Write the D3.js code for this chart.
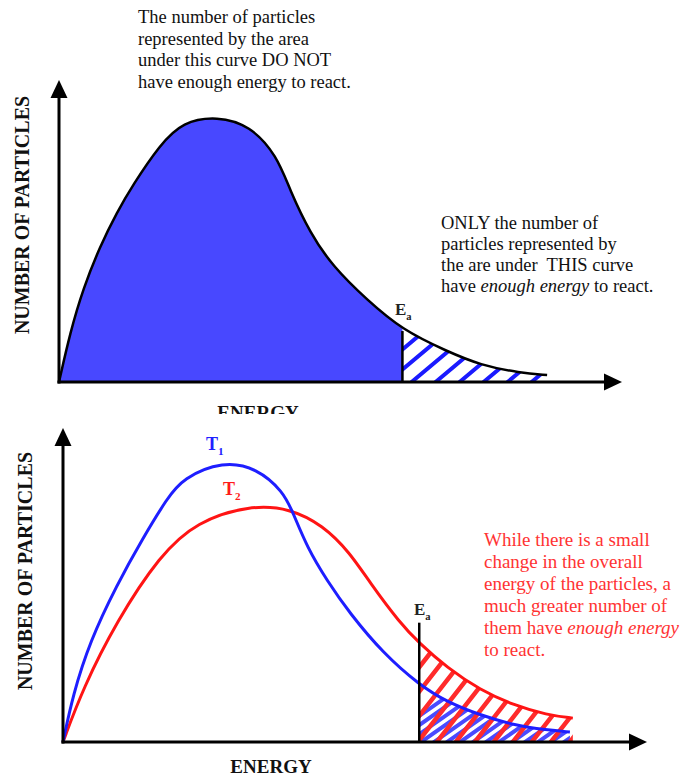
<!DOCTYPE html>
<html>
<head>
<meta charset="utf-8">
<script src="https://cdn.jsdelivr.net/npm/d3@7"></script>
<style>
  body { margin: 0; background: #fff; }
  svg { display: block; }
  svg text { font-family: "Liberation Serif", "DejaVu Serif", serif; }
  .axis path { stroke: #000; stroke-width: 3; }
</style>
</head>
<body>
<div id="chart"></div>
<script>
// values (arbitrary energy / count units)
var topEnergy = [0, 0.2, 0.43, 0.73, 1.03, 1.31, 1.79, 2.2, 2.81, 3.39, 3.87, 4.1, 4.46, 4.87, 5.47, 6.1, 6.89, 7.48, 8.19, 8.67];
var topCount = [0, 1.65, 3.1, 4.5, 5.62, 6.52, 7.85, 8.62, 8.8, 8.5, 7.5, 6.36, 4.93, 3.81, 2.72, 1.72, 1.02, 0.56, 0.3, 0.23];

var t1Energy = [0, 0.17, 0.46, 0.92, 1.37, 1.78, 2.05, 2.74, 3.32, 3.77, 3.94, 4.18, 4.52, 4.91, 5.48, 6.1, 6.58, 7.14, 7.71, 8.29, 8.68];
var t1Count = [0, 1.5, 3.2, 5.0, 6.5, 7.75, 8.4, 8.95, 8.72, 7.98, 7.3, 6.2, 5.14, 4.1, 2.83, 1.82, 1.27, 0.86, 0.54, 0.38, 0.32];

var t2Energy = [0, 0.34, 0.92, 1.66, 2.29, 3.2, 3.89, 4.45, 4.91, 5.26, 5.77, 6.1, 6.58, 7.14, 7.71, 8.29, 8.73];
var t2Count = [0, 1.7, 3.85, 5.95, 7.02, 7.54, 7.44, 6.9, 6.04, 5.06, 3.79, 3.15, 2.36, 1.66, 1.18, 0.86, 0.76];

var activationEnergy = 6.1;
var eaLineTop = 3.8;

var topNote = ["The number of particles", "represented by the area", "under this curve DO NOT", "have enough energy to react."];
var tailNote = [["ONLY the number of"], ["particles represented by"], ["the are under  THIS curve"], ["have ", "enough energy", " to react."]];
var redNote = [["While there is a small"], ["change in the overall"], ["energy of the particles, a"], ["much greater number of"], ["them have ", "enough energy"], ["to react."]];

var svgWidth = 688;
var svgHeight = 777;
var serif = "Liberation Serif, DejaVu Serif, serif";

var svg = d3.select("#chart")
    .append("svg")
    .attr("width", svgWidth)
    .attr("height", svgHeight);

svg.append("rect").attr("width", svgWidth).attr("height", svgHeight).attr("fill", "#fff");

var defs = svg.append("defs");

function toPoints(xs, ys) {
    return xs.map(function (d, i) { return [d, ys[i]]; });
}

// draws axis lines with arrow heads, no ticks
function drawAxes(g, x, y) {
    g.append("g")
        .attr("class", "axis")
        .attr("transform", `translate(0, ${y(0)})`)
        .call(d3.axisBottom(x).tickValues([]).tickSizeOuter(0).tickSizeInner(0))
        .select(".domain")
        .attr("d", `M${x(0) - 1.5},0H${x(10) - 10}`);

    g.append("g")
        .attr("class", "axis")
        .attr("transform", `translate(${x(0)}, 0)`)
        .call(d3.axisLeft(y).tickValues([]).tickSizeOuter(0).tickSizeInner(0))
        .select(".domain")
        .attr("d", `M0,${y(0) + 1.5}V${y(10) + 10}`);

    g.append("path")
        .attr("d", `M${x(10)},${y(0)}L${x(10) - 18},${y(0) - 8.5}L${x(10) - 18},${y(0) + 8.5}Z`)
        .attr("fill", "#000");
    g.append("path")
        .attr("d", `M${x(0)},${y(10)}L${x(0) - 8.5},${y(10) + 18}L${x(0) + 8.5},${y(10) + 18}Z`)
        .attr("fill", "#000");
}

// diagonal hatch strokes, clipped by the tail area
function drawHatch(g, clipArea, clipRect, startX, endX, baseY, angle, step, color, width) {
    var rad = angle * Math.PI / 180;
    var len = 160;
    var outer = g.append("g").attr("clip-path", `url(#${clipRect})`);
    var inner = outer.append("g").attr("clip-path", `url(#${clipArea})`);
    inner.selectAll("line")
        .data(d3.range(startX, endX, step))
        .enter()
        .append("line")
        .attr("x1", d => d)
        .attr("y1", baseY + 4)
        .attr("x2", d => d + len * Math.cos(rad))
        .attr("y2", d => baseY + 4 - len * Math.sin(rad))
        .attr("stroke", color)
        .attr("stroke-width", width)
        .attr("stroke-linecap", "round");
}

function writeLines(g, lines, x, y0, lineH, size, color) {
    var text = g.append("text")
        .attr("font-family", serif)
        .attr("font-size", size)
        .attr("fill", color);
    lines.forEach(function (parts, i) {
        var row = text.append("tspan")
            .attr("x", x)
            .attr("y", y0 + i * lineH);
        [].concat(parts).forEach(function (p, j) {
            row.append("tspan")
                .attr("font-style", j === 1 ? "italic" : "normal")
                .style("white-space", "pre")
                .text(p);
        });
    });
}

function subLabel(g, x, y, main, sub, size, color) {
    var t = g.append("text")
        .attr("x", x)
        .attr("y", y)
        .attr("font-family", serif)
        .attr("font-weight", "bold")
        .attr("font-size", size)
        .attr("fill", color);
    t.append("tspan").text(main);
    t.append("tspan")
        .attr("font-size", size * 0.62)
        .attr("dy", size * 0.3)
        .text(sub);
}

// ---------------- top chart ----------------
var xTop = d3.scaleLinear().domain([0, 10]).range([59, 622]);
var yTop = d3.scaleLinear().domain([0, 10]).range([382, 80]);
var topData = toPoints(topEnergy, topCount);

var topArea = d3.area()
    .x(d => xTop(d[0]))
    .y0(yTop(0))
    .y1(d => yTop(d[1]))
    .curve(d3.curveBasis);
var topLine = d3.line()
    .x(d => xTop(d[0]))
    .y(d => yTop(d[1]))
    .curve(d3.curveBasis);

defs.append("clipPath").attr("id", "topLeft")
    .append("rect")
    .attr("x", 0).attr("y", 0)
    .attr("width", xTop(activationEnergy)).attr("height", svgHeight);
defs.append("clipPath").attr("id", "topRight")
    .append("rect")
    .attr("x", xTop(activationEnergy)).attr("y", 0)
    .attr("width", svgWidth).attr("height", svgHeight);
defs.append("clipPath").attr("id", "topTail")
    .append("path")
    .attr("d", topArea(topData));

var topGroup = svg.append("g");

topGroup.append("path")
    .attr("d", topArea(topData))
    .attr("fill", "#4848ff")
    .attr("clip-path", "url(#topLeft)");

drawHatch(topGroup, "topTail", "topRight", xTop(activationEnergy) - 40, xTop(9), yTop(0) - 3, 40, 24, "#1a1aff", 4);

topGroup.append("path")
    .attr("d", topLine(topData))
    .attr("fill", "none")
    .attr("stroke", "#000")
    .attr("stroke-width", 2.5);

topGroup.append("line")
    .attr("x1", xTop(activationEnergy)).attr("x2", xTop(activationEnergy))
    .attr("y1", yTop(topCount[topEnergy.indexOf(activationEnergy)]) + 1)
    .attr("y2", yTop(0))
    .attr("stroke", "#000")
    .attr("stroke-width", 2.5);

drawAxes(topGroup, xTop, yTop);

subLabel(topGroup, 395, 315, "E", "a", 17, "#222");

writeLines(topGroup, topNote.map(d => [d]), 138, 23, 21.5, 18.5, "#111");
writeLines(topGroup, tailNote, 441, 229, 21, 18.5, "#111");

topGroup.append("text")
    .attr("transform", "translate(29, 215) rotate(-90)")
    .attr("text-anchor", "middle")
    .attr("font-family", serif)
    .attr("font-weight", "bold")
    .attr("font-size", 20)
    .attr("fill", "#111")
    .text("NUMBER OF PARTICLES");

// energy label partly hidden under the second panel
topGroup.append("text")
    .attr("x", 258)
    .attr("y", 419)
    .attr("text-anchor", "middle")
    .attr("font-family", serif)
    .attr("font-weight", "bold")
    .attr("font-size", 19)
    .attr("fill", "#111")
    .text("ENERGY");

svg.append("rect")
    .attr("x", 0).attr("y", 414)
    .attr("width", svgWidth).attr("height", svgHeight - 414)
    .attr("fill", "#fff");

// ---------------- bottom chart ----------------
var xBot = d3.scaleLinear().domain([0, 10]).range([63, 647]);
var yBot = d3.scaleLinear().domain([0, 10]).range([742, 428]);
var t1Data = toPoints(t1Energy, t1Count);
var t2Data = toPoints(t2Energy, t2Count);

var botArea = d3.area()
    .x(d => xBot(d[0]))
    .y0(yBot(0))
    .y1(d => yBot(d[1]))
    .curve(d3.curveBasis);
var botLine = d3.line()
    .x(d => xBot(d[0]))
    .y(d => yBot(d[1]))
    .curve(d3.curveBasis);

defs.append("clipPath").attr("id", "botRight")
    .append("rect")
    .attr("x", xBot(activationEnergy)).attr("y", 0)
    .attr("width", svgWidth).attr("height", svgHeight);
defs.append("clipPath").attr("id", "t1Tail")
    .append("path")
    .attr("d", botArea(t1Data));
defs.append("clipPath").attr("id", "t2Tail")
    .append("path")
    .attr("d", botArea(t2Data));

var botGroup = svg.append("g");

drawHatch(botGroup, "t1Tail", "botRight", xBot(activationEnergy) - 40, xBot(9.2), yBot(0) - 2, 35, 13, "#4a4aff", 4);
drawHatch(botGroup, "t2Tail", "botRight", xBot(activationEnergy) - 60, xBot(9.2), yBot(0) - 2, 52, 19, "#ff2b2b", 4.5);

botGroup.append("path")
    .attr("d", botLine(t2Data))
    .attr("fill", "none")
    .attr("stroke", "#ff1414")
    .attr("stroke-width", 3);

botGroup.append("path")
    .attr("d", botLine(t1Data))
    .attr("fill", "none")
    .attr("stroke", "#1e1eff")
    .attr("stroke-width", 3);

botGroup.append("line")
    .attr("x1", xBot(activationEnergy)).attr("x2", xBot(activationEnergy))
    .attr("y1", yBot(eaLineTop))
    .attr("y2", yBot(0))
    .attr("stroke", "#000")
    .attr("stroke-width", 2.5);

drawAxes(botGroup, xBot, yBot);

subLabel(botGroup, 414, 615, "E", "a", 17, "#222");
subLabel(botGroup, 206, 450, "T", "1", 18, "#2020ff");
subLabel(botGroup, 223, 495, "T", "2", 18, "#ff1a1a");

writeLines(botGroup, redNote, 484, 546, 22, 19, "#ff3333");

botGroup.append("text")
    .attr("transform", "translate(32, 571) rotate(-90)")
    .attr("text-anchor", "middle")
    .attr("font-family", serif)
    .attr("font-weight", "bold")
    .attr("font-size", 20)
    .attr("fill", "#111")
    .text("NUMBER OF PARTICLES");

botGroup.append("text")
    .attr("x", 271)
    .attr("y", 773)
    .attr("text-anchor", "middle")
    .attr("font-family", serif)
    .attr("font-weight", "bold")
    .attr("font-size", 19)
    .attr("fill", "#111")
    .text("ENERGY");
</script>
</body>
</html>
